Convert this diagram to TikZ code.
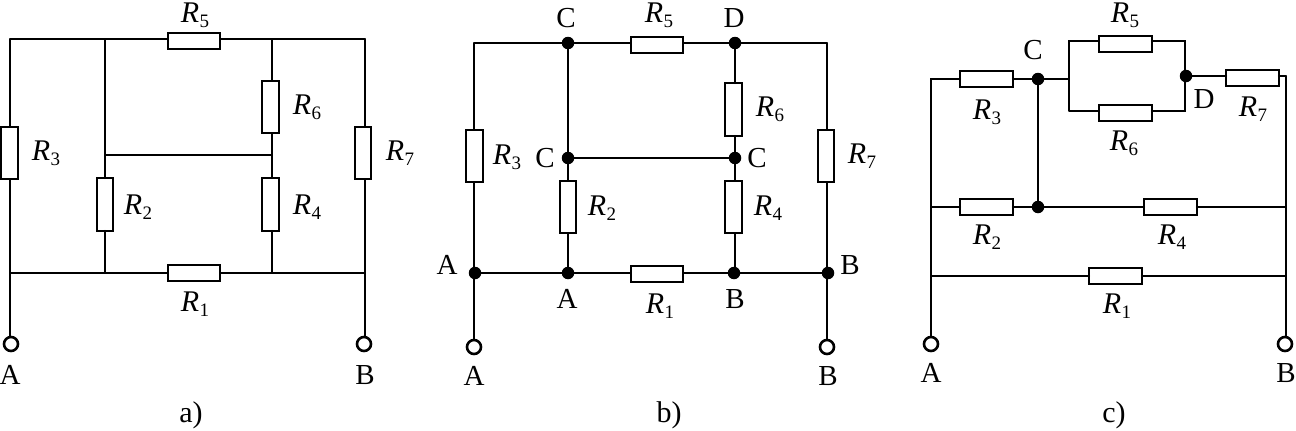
\documentclass[tikz,border=0pt]{standalone}
\usepackage{fontspec}
\setmainfont{Liberation Serif}
\newcommand{\resl}[1]{{\itshape R}\kern0.5pt\raisebox{-5pt}{\fontsize{19}{19}\selectfont #1}}
\tikzset{
  wire/.style={line width=1.8pt,line cap=round},
  hbox/.style={draw,line width=1.8pt,fill=white,minimum width=52.5pt,minimum height=16.5pt,inner sep=0pt,outer sep=0pt},
  vbox/.style={draw,line width=1.8pt,fill=white,minimum width=16.5pt,minimum height=52.5pt,inner sep=0pt,outer sep=0pt},
  lab/.style={inner sep=0pt,font=\fontsize{30}{32}\selectfont},
  let/.style={inner sep=0pt,font=\fontsize{29}{32}\selectfont},
  dot/.style={circle,fill=black,minimum size=12.5pt,inner sep=0pt,outer sep=0pt},
  term/.style={circle,draw,line width=2.6pt,fill=white,minimum size=14pt,inner sep=0pt,outer sep=0pt}
}
\begin{document}
\begin{tikzpicture}[x=1pt,y=-1pt]
\useasboundingbox (0,0) rectangle (1296,431);
% ---------- a ----------
\coordinate (atl) at (10,39); \coordinate (atm) at (105,39); \coordinate (atn) at (272,39); \coordinate (atr) at (365,39);
\coordinate (abl) at (10,273); \coordinate (abm) at (105,273); \coordinate (abn) at (272,273); \coordinate (abr) at (365,273);
\coordinate (amm) at (105,155); \coordinate (amn) at (272,155);
\node[term] (aA) at (11,344) {}; \node[term] (aB) at (364,344) {};
\node[hbox] (ar5) at (194,41) {}; \node[hbox] (ar1) at (194,273) {};
\node[vbox] (ar3) at (9.5,153) {}; \node[vbox] (ar7) at (363,153) {};
\node[vbox] (ar6) at (270.5,107) {}; \node[vbox] (ar4) at (270.5,204.5) {};
\node[vbox] (ar2) at (105,204.5) {};
\draw[wire] (atl) -- (atl -| ar5.west) (atr) -- (atr -| ar5.east);
\draw[wire] (abl) -- (ar1.west) (abr) -- (ar1.east);
\draw[wire] (atl) -- (atl |- ar3.north) (abl) -- (abl |- ar3.south) (abl) -- (aA.north -| abl);
\draw[wire] (atr) -- (atr |- ar7.north) (abr) -- (abr |- ar7.south) (abr) -- (aB.north -| abr);
\draw[wire] (atm) -- (amm) -- (amm |- ar2.north) (abm) -- (abm |- ar2.south);
\draw[wire] (atn) -- (atn |- ar6.north) (amn |- ar6.south) -- (amn |- ar4.north) (abn) -- (abn |- ar4.south);
\draw[wire] (amm) -- (amn);
\node[lab] (al5) at (195,15) {\resl{5}}; \node[lab] (al6) at (307,107) {\resl{6}};
\node[lab] (al3) at (46,153) {\resl{3}}; \node[lab] (al7) at (400,153) {\resl{7}};
\node[lab] (al2) at (138,207) {\resl{2}}; \node[lab] (al4) at (307,207) {\resl{4}};
\node[lab] (al1) at (195,304) {\resl{1}};
\node[let] (alA) at (10,375) {A}; \node[let] (alB) at (365,375) {B};
\node[lab] (acapa) at (191,415) {a)};
% ---------- b ----------
\coordinate (btl) at (474,43); \coordinate (btr) at (827,43);
\node[dot] (bC1) at (568,43) {}; \node[dot] (bD) at (735,43) {};
\node[dot] (bC2) at (568,158) {}; \node[dot] (bC3) at (735,158) {};
\node[dot] (bA1) at (475,273) {}; \node[dot] (bA2) at (568,273) {};
\node[dot] (bB1) at (734,273) {}; \node[dot] (bB2) at (828,273) {};
\node[term] (bA) at (474,347) {}; \node[term] (bB) at (827,347) {};
\node[hbox] (br5) at (657,45) {}; \node[hbox] (br1) at (657,274) {};
\node[vbox] (br3) at (474.5,156) {}; \node[vbox] (br7) at (826,156) {};
\node[vbox] (br6) at (733.5,109.5) {}; \node[vbox] (br4) at (733.5,207) {};
\node[vbox] (br2) at (568,207) {};
\draw[wire] (btl) -- (bC1) -- (bC1 -| br5.west) (br5.east |- bD) -- (bD) -- (btr);
\draw[wire] (bA1) -- (bA2) -- (bA2 -| br1.west) (br1.east |- bB1) -- (bB1) -- (bB2);
\draw[wire] (btl) -- (btl |- br3.north) (btl |- br3.south) -- (bA1.center -| btl) -- (bA.north);
\draw[wire] (btr) -- (btr |- br7.north) (btr |- br7.south) -- (bB2.center -| btr) -- (bB.north);
\draw[wire] (bC1) -- (bC2) -- (bC2 |- br2.north) (bC2 |- br2.south) -- (bA2);
\draw[wire] (bD) -- (bD |- br6.north) (bC3 |- br6.south) -- (bC3) -- (bC3 |- br4.north) (bC3 |- br4.south) -- (bC3 |- bB1);
\draw[wire] (bC2) -- (bC3);
\node[let] (blC1) at (566,18) {C}; \node[lab] (bl5) at (659,15) {\resl{5}}; \node[let] (blD) at (734,18) {D};
\node[lab] (bl6) at (770,109) {\resl{6}}; \node[lab] (bl3) at (507,157) {\resl{3}};
\node[let] (blC2) at (545,158) {C}; \node[let] (blC3) at (757,158) {C}; \node[lab] (bl7) at (862,156) {\resl{7}};
\node[lab] (bl2) at (602,208) {\resl{2}}; \node[lab] (bl4) at (768,208) {\resl{4}};
\node[let] (blA1) at (447,265) {A}; \node[let] (blA2) at (567,299) {A}; \node[lab] (bl1) at (660,306) {\resl{1}};
\node[let] (blB1) at (735,299) {B}; \node[let] (blB2) at (850,265) {B};
\node[let] (blA) at (474,376) {A}; \node[let] (blB) at (828,376) {B};
\node[lab] (bcap) at (669,415) {b)};
% ---------- c ----------
\coordinate (ctl) at (931,79); \coordinate (ctr) at (1286,76);
\coordinate (cml) at (931,207); \coordinate (cmr) at (1286,207);
\coordinate (cbl) at (931,276); \coordinate (cbr) at (1286,276);
\coordinate (cpl) at (1069,79); \coordinate (cpt) at (1069,41); \coordinate (cpb) at (1069,111);
\coordinate (cqt) at (1185,41); \coordinate (cqb) at (1185,111);
\node[dot] (cC) at (1038,79) {}; \node[dot] (cE) at (1038,207) {}; \node[dot] (cD) at (1186,76) {};
\node[term] (cA) at (931,344) {}; \node[term] (cB) at (1285,344) {};
\node[hbox] (cr3) at (986.5,79) {}; \node[hbox] (cr5) at (1125.5,44) {}; \node[hbox] (cr6) at (1125.5,113) {};
\node[hbox] (cr7) at (1252.5,78) {}; \node[hbox] (cr2) at (986.5,207) {}; \node[hbox] (cr4) at (1170.5,207) {};
\node[hbox] (cr1) at (1115.5,276) {};
\draw[wire] (cA.north -| ctl) -- (ctl) -- (cr3.west);
\draw[wire] (cr3.east) -- (cC) -- (cpl);
\draw[wire] (cC) -- (cE);
\draw[wire] (cpb) -- (cpt) -- (cpt -| cr5.west) (cr5.east |- cqt) -- (cqt) -- (cqb) -- (cr6.east |- cqb) (cr6.west |- cpb) -- (cpb);
\draw[wire] (cD) -- (cD -| cr7.west) (ctr) -- (cr7.east |- ctr);
\draw[wire] (ctr) -- (cB.north -| ctr);
\draw[wire] (cml) -- (cr2.west) (cr2.east) -- (cE) -- (cr4.west) (cr4.east) -- (cmr);
\draw[wire] (cbl) -- (cr1.west) (cr1.east) -- (cbr);
\node[let] (clC) at (1033,50) {C}; \node[lab] (cl5) at (1125,15) {\resl{5}}; \node[lab] (cl3) at (987,112) {\resl{3}};
\node[let] (clD) at (1204,99) {D}; \node[lab] (cl7) at (1253,109) {\resl{7}}; \node[lab] (cl6) at (1124,143) {\resl{6}};
\node[lab] (cl2) at (987,237) {\resl{2}}; \node[lab] (cl4) at (1172,237) {\resl{4}}; \node[lab] (cl1) at (1117,306) {\resl{1}};
\node[let] (clA) at (931,373) {A}; \node[let] (clB) at (1286,373) {B};
\node[lab] (ccap) at (1114,415) {c)};
\end{tikzpicture}
\end{document}
